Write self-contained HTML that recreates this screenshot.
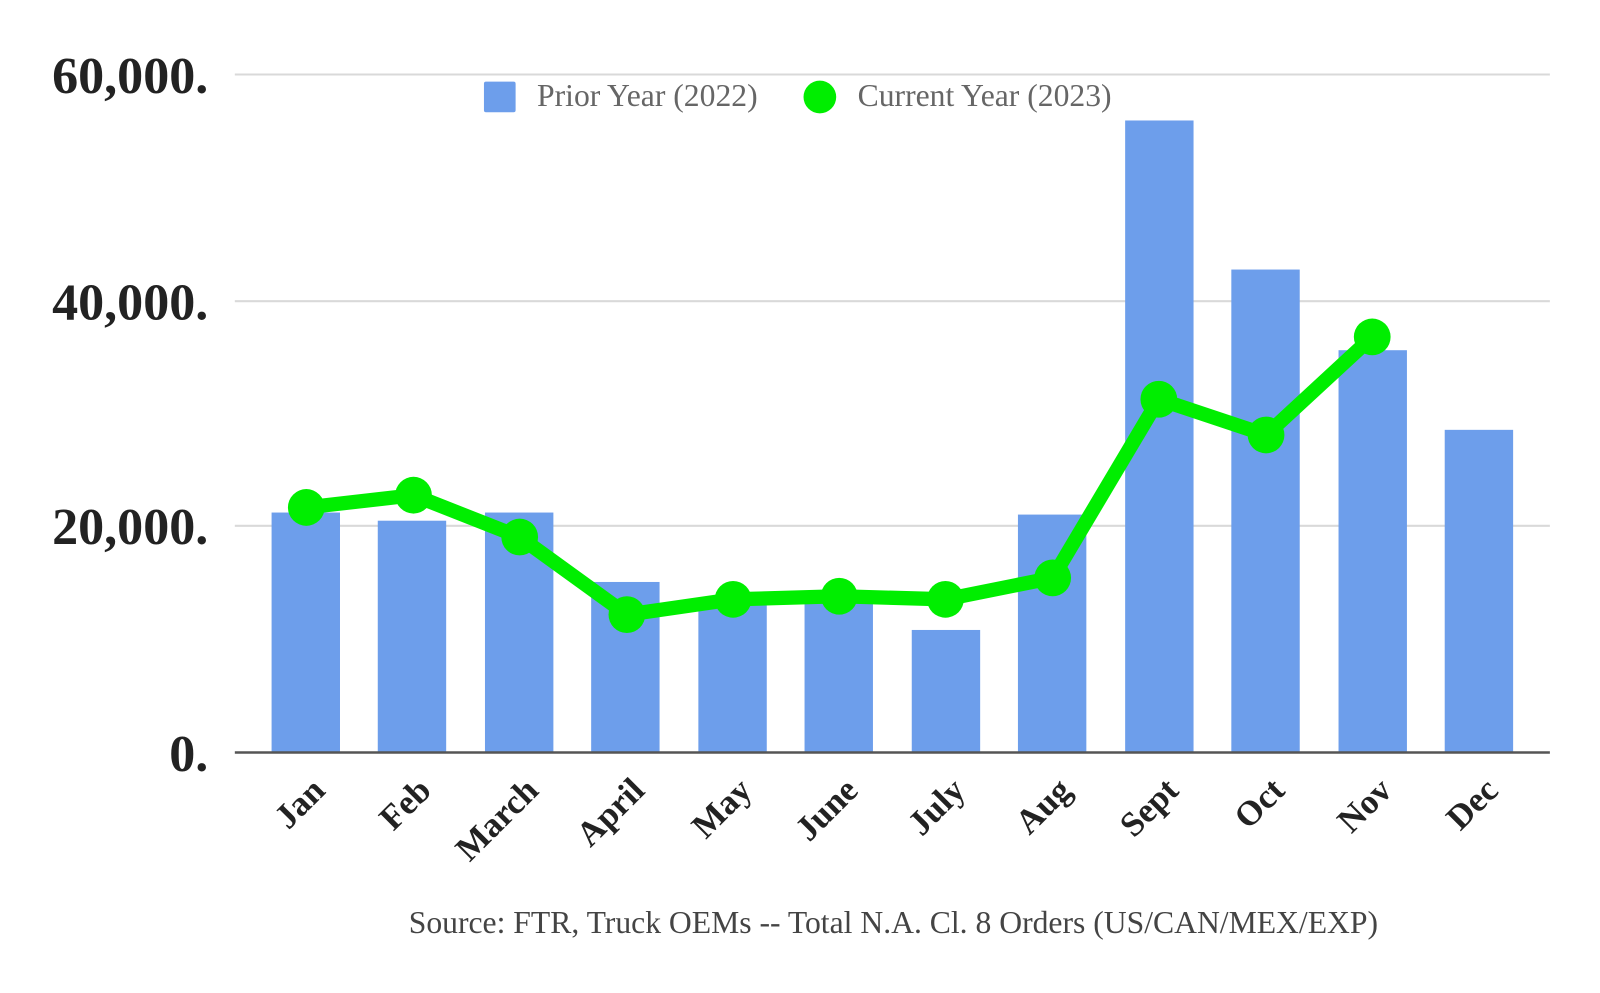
<!DOCTYPE html>
<html><head><meta charset="utf-8"><style>
html,body{margin:0;padding:0;background:#fff;}
</style></head><body>
<svg width="1600" height="988" viewBox="0 0 1600 988" xmlns="http://www.w3.org/2000/svg" font-family="Liberation Serif, serif">
<rect width="1600" height="988" fill="#fff"/>
<g transform="scale(1.021)">
<g stroke="#d9d9d9" stroke-width="2">
<line x1="230" y1="73" x2="1518" y2="73"/>
<line x1="230" y1="295" x2="1518" y2="295"/>
<line x1="230" y1="515" x2="1518" y2="515"/>
</g>
<g font-weight="bold" font-size="51" fill="#222" text-anchor="end">
<text x="204" y="91">60,000.</text>
<text x="204" y="313">40,000.</text>
<text x="204" y="533">20,000.</text>
<text x="204" y="755">0.</text>
</g>
<g fill="#6d9eeb">
<rect x="266" y="502" width="67" height="235"/>
<rect x="370" y="510" width="67" height="227"/>
<rect x="475" y="502" width="67" height="235"/>
<rect x="579" y="570" width="67" height="167"/>
<rect x="684" y="590" width="67" height="147"/>
<rect x="788" y="585" width="67" height="152"/>
<rect x="893" y="617" width="67" height="120"/>
<rect x="997" y="504" width="67" height="233"/>
<rect x="1102" y="118" width="67" height="619"/>
<rect x="1206" y="264" width="67" height="473"/>
<rect x="1311" y="343" width="67" height="394"/>
<rect x="1415" y="421" width="67" height="316"/>
</g>
<line x1="230" y1="737" x2="1518" y2="737" stroke="#555" stroke-width="2.5"/>
<polyline fill="none" stroke="#00ee00" stroke-width="14" stroke-linejoin="round" points="300,497 405,485 509,526 614,602 718,587 822,584 926,587 1031,566 1135,391 1240,426 1344,330"/>
<g fill="#00ee00">
<circle cx="300" cy="497" r="18"/><circle cx="405" cy="485" r="18"/><circle cx="509" cy="526" r="18"/>
<circle cx="614" cy="602" r="18"/><circle cx="718" cy="587" r="18"/><circle cx="822" cy="584" r="18"/>
<circle cx="926" cy="587" r="18"/><circle cx="1031" cy="566" r="18"/><circle cx="1135" cy="391" r="18"/>
<circle cx="1240" cy="426" r="18"/><circle cx="1344" cy="330" r="18"/>
</g>
<rect x="474" y="80" width="31" height="30" rx="2" fill="#6d9eeb"/>
<text x="526" y="104" font-size="31" fill="#666">Prior Year (2022)</text>
<circle cx="803" cy="95" r="16" fill="#00ee00"/>
<text x="840" y="104" font-size="31" fill="#666">Current Year (2023)</text>
<g font-weight="bold" font-size="34" fill="#222" text-anchor="end">
<text transform="translate(320,776) rotate(-45)">Jan</text>
<text transform="translate(424,776) rotate(-45)">Feb</text>
<text transform="translate(529,776) rotate(-45)">March</text>
<text transform="translate(633,776) rotate(-45)">April</text>
<text transform="translate(738,776) rotate(-45)">May</text>
<text transform="translate(842,776) rotate(-45)">June</text>
<text transform="translate(947,776) rotate(-45)">July</text>
<text transform="translate(1051,776) rotate(-45)">Aug</text>
<text transform="translate(1156,776) rotate(-45)">Sept</text>
<text transform="translate(1260,776) rotate(-45)">Oct</text>
<text transform="translate(1365,776) rotate(-45)">Nov</text>
<text transform="translate(1469,776) rotate(-45)">Dec</text>
</g>
<text x="875" y="914" font-size="31" fill="#444" text-anchor="middle">Source: FTR, Truck OEMs -- Total N.A. Cl. 8 Orders (US/CAN/MEX/EXP)</text>
</g>
</svg>
</body></html>
